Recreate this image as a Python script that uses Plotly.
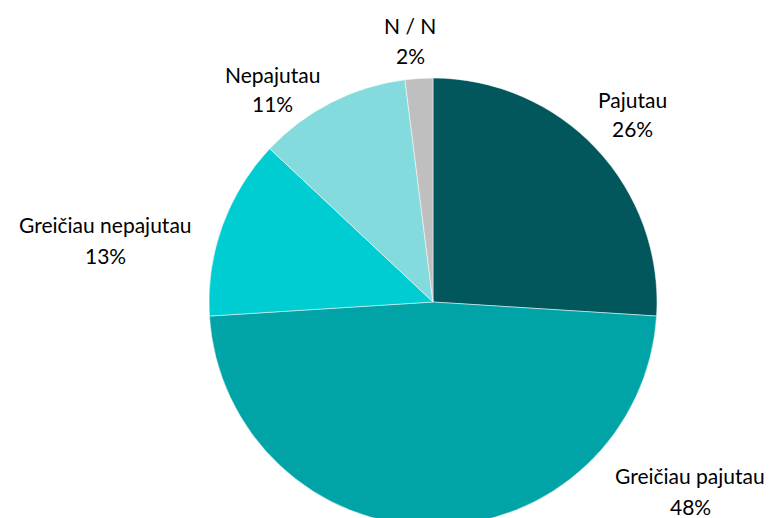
import plotly.graph_objects as go

labels = ["Pajutau", "Greičiau pajutau", "Greičiau nepajutau", "Nepajutau", "N / N"]
values = [26, 48, 13, 11, 2]
colors = ["#02575C", "#00A3A6", "#00CDD2", "#84DBDD", "#BFBFBF"]

W, H = 773, 518
OFF = 8  # page body margin offset
# label block centres (pixels in screenshot): x, name line y, percent line y
label_pos = [(632, 100, 129), (690, 475, 506), (105, 224, 255), (272, 75, 104), (410, 25, 55)]

cx, cy, r = 433 - OFF, 302 - OFF, 224
fig = go.Figure(go.Pie(
    labels=labels, values=values, sort=False, direction="clockwise", rotation=0,
    marker=dict(colors=colors, line=dict(color="white", width=0.5)),
    textinfo="none", hoverinfo="label+percent", showlegend=False,
    domain=dict(x=[(cx - r) / W, (cx + r) / W], y=[max(0, (H - cy - r) / H), (H - cy + r) / H]),
))

font = dict(family="Lato, Carlito, sans-serif", size=21, color="#000000")
anns = []
total = sum(values)
for lab, val, (x, y1, y2) in zip(labels, values, label_pos):
    anns.append(dict(x=(x - OFF) / W, y=1 - (y1 - OFF) / H, xref="paper", yref="paper", text=lab,
                     showarrow=False, font=font, xanchor="center", yanchor="middle"))
    anns.append(dict(x=(x - OFF) / W, y=1 - (y2 - OFF) / H, xref="paper", yref="paper",
                     text=f"{round(100 * val / total)}%",
                     showarrow=False, font=font, xanchor="center", yanchor="middle"))

fig.update_layout(width=W, height=H, margin=dict(l=0, r=0, t=0, b=0),
                  paper_bgcolor="white", plot_bgcolor="white", annotations=anns)
fig.write_html("out.html")
